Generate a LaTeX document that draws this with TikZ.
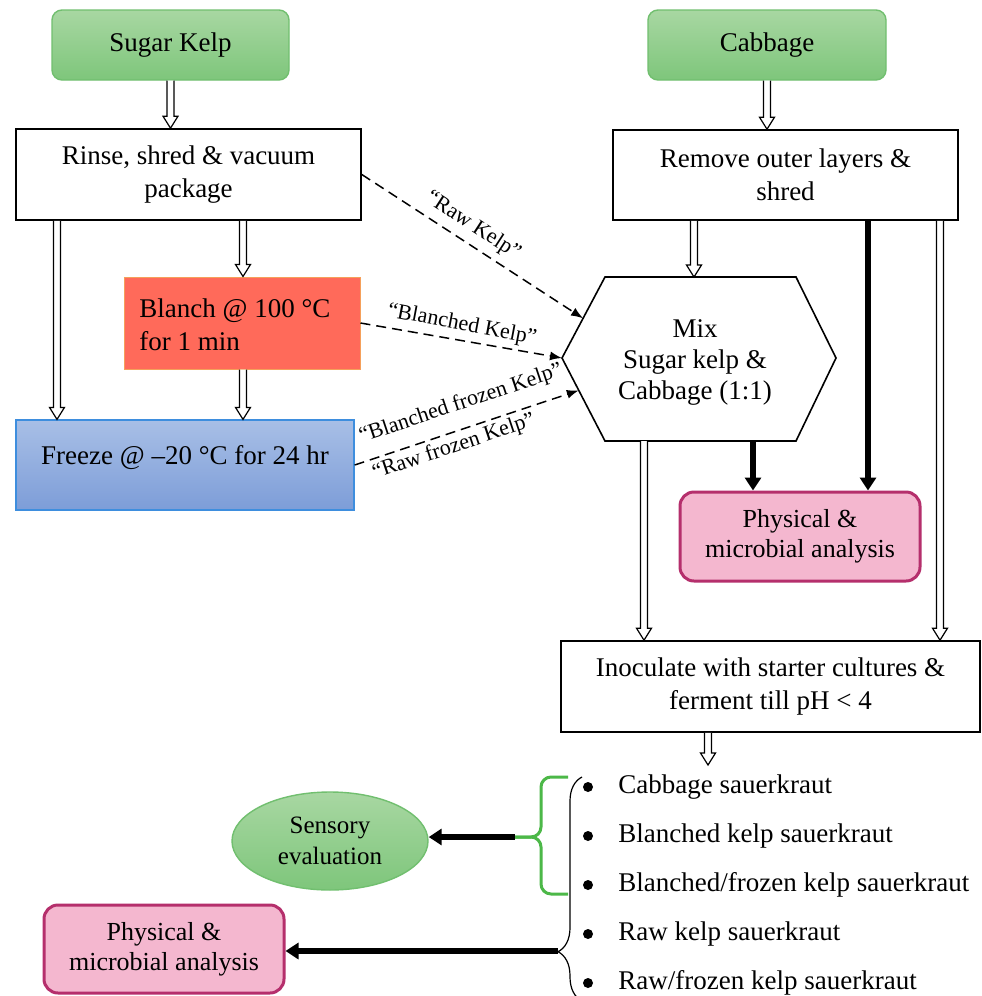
\documentclass[tikz,border=0pt]{standalone}
\usepackage{fontspec}
\setmainfont{Liberation Serif}
\usetikzlibrary{arrows.meta,calc,decorations.pathreplacing,shapes.geometric}
\definecolor{gtop}{HTML}{A8D7A2}
\definecolor{gbot}{HTML}{7EC67B}
\definecolor{gline}{HTML}{71BF6F}
\definecolor{blanchfill}{HTML}{FF6A5A}
\definecolor{blanchline}{HTML}{F5A05A}
\definecolor{ftop}{HTML}{A8BFE6}
\definecolor{fbot}{HTML}{7D9DD8}
\definecolor{fline}{HTML}{3E8EDE}
\definecolor{pinkfill}{HTML}{F4B7CF}
\definecolor{pinkline}{HTML}{B52F6C}
\definecolor{bracegreen}{HTML}{4CB848}
\begin{document}
\begin{tikzpicture}[x=0.5pt,y=-0.5pt,
  txt/.style={font=\fontsize{13.5}{16.5}\selectfont, align=center, inner sep=0pt},
  gbox/.style={txt, draw=gline, line width=0.7pt, rounded corners=5pt, top color=gtop, bottom color=gbot},
  wbox/.style={txt, draw=black, line width=0.8pt, fill=white},
  pinkbox/.style={draw=pinkline, line width=1.5pt, rounded corners=7pt, fill=pinkfill, align=center, inner sep=0pt, font=\fontsize{13}{15}\selectfont},
  lab/.style={font=\fontsize{11}{13}\selectfont, inner sep=0pt},
  hol/.style={draw=black, line width=0.6pt, fill=white, to path={let \p1=(\tikztostart), \p2=(\tikztotarget) in (\x1-1.75pt,\y1) -- (\x1-1.75pt,\y2+6pt) -- (\x1-3.75pt,\y2+6pt) -- (\x1,\y2) -- (\x1+3.75pt,\y2+6pt) -- (\x1+1.75pt,\y2+6pt) -- (\x1+1.75pt,\y1)}},
  thickarr/.style={line width=3pt, -{Triangle[length=6.5pt,width=8pt]}},
  dasharr/.style={line width=0.75pt, dash pattern=on 5pt off 3pt, -{Latex[length=6pt,width=4.5pt]}},
  gbr/.style={draw=bracegreen, line width=1.5pt, rounded corners=5pt},
  bul/.style={circle, fill=black, inner sep=0pt, minimum size=5pt}
]
\useasboundingbox (0,0) rectangle (981,996);
\clip (0,0) rectangle (981,996);
\fill[white] (0,0) rectangle (981,996);

% column x positions
\coordinate (xa) at (57,0);
\coordinate (xb) at (243,0);
\coordinate (xc) at (644,0);
\coordinate (xd) at (940,0);
\coordinate (xe) at (694,0);
\coordinate (xf) at (708,0);
\coordinate (xg) at (753,0);
\coordinate (xh) at (868,0);

% nodes
\node[gbox, minimum width=118.5pt, minimum height=35pt] (sk) at (170.5,45) {Sugar Kelp};
\node[gbox, minimum width=119pt, minimum height=35pt] (cab) at (767,45) {Cabbage};
\node[wbox, minimum width=172.5pt, minimum height=45.5pt] (rinse) at (188.5,174.5) {Rinse, shred \& vacuum\\package};
\node[wbox, minimum width=172.5pt, minimum height=45pt] (remove) at (785.5,175) {Remove outer layers \&\\shred};
\node[draw=blanchline, line width=0.5pt, fill=blanchfill, minimum width=118pt, minimum height=46pt, inner sep=0pt] (blanch) at (242,323) {};
\node[txt, anchor=west, align=left] (blanchtxt) at (139,325) {Blanch @ 100 °C\\for 1 min};
\node[draw=fline, line width=0.6pt, top color=ftop, bottom color=fbot, minimum width=169pt, minimum height=45pt, inner sep=0pt] (freeze) at (185,465) {};
\node[txt] (freezetxt) at (185,458) {Freeze @ –20 °C for 24 hr};

% hexagon
\coordinate (hL) at (562,358);
\coordinate (hTL) at (605,277);
\coordinate (hTR) at (796,277);
\coordinate (hR) at (836,358);
\coordinate (hBR) at (796,441);
\coordinate (hBL) at (605,441);
\draw[line width=0.8pt, fill=white] (hL) -- (hTL) -- (hTR) -- (hR) -- (hBR) -- (hBL) -- cycle;
\node[txt, font=\fontsize{13.5}{15.5}\selectfont] (hex) at (695,362) {Mix\\Sugar kelp \&\\Cabbage (1:1)};

\node[pinkbox, minimum width=120pt, minimum height=44.5pt] (pink1) at (800,536.5) {Physical \&\\microbial analysis};
\node[wbox, minimum width=209.5pt, minimum height=45.5pt] (inoc) at (770.5,686.5) {Inoculate with starter cultures \&\\ferment till pH < 4};
\node[ellipse, draw=gline, line width=0.7pt, top color=gtop, bottom color=gbot, minimum width=98pt, minimum height=49pt, inner sep=0pt, align=center, font=\fontsize{12.5}{15.5}\selectfont] (sens) at (330,841) {Sensory\\evaluation};
\node[pinkbox, minimum width=120pt, minimum height=44pt] (pink2) at (164,949) {Physical \&\\microbial analysis};

% list
\foreach \i/\yy/\t in {1/787/Cabbage sauerkraut, 2/836/Blanched kelp sauerkraut, 3/885/Blanched\slash frozen kelp sauerkraut, 4/934/Raw kelp sauerkraut, 5/983/Raw\slash frozen kelp sauerkraut}{
  \node[bul] (b\i) at (588,\yy) {};
  \node[txt, anchor=west] (it\i) at (618,\yy) {\t};
}
\coordinate (listtop) at (708,765);

% hollow arrows
\draw[hol] (sk.south) to (rinse.north);
\draw[hol] (cab.south) to (remove.north);
\draw[hol] (rinse.south -| xa) to (freeze.north -| xa);
\draw[hol] (rinse.south -| xb) to (blanch.north -| xb);
\draw[hol] (blanch.south -| xb) to (freeze.north -| xb);
\draw[hol] (remove.south -| xe) to (hTL -| xe);
\draw[hol] (hBL -| xc) to (inoc.north -| xc);
\draw[hol] (remove.south -| xd) to (inoc.north -| xd);
\draw[hol] (inoc.south -| xf) to (listtop);

% thick arrows
\draw[thickarr] (hBL -| xg) -- (pink1.north -| xg);
\draw[thickarr] (remove.south -| xh) -- (pink1.north -| xh);

% dashed arrows
\draw[dasharr] (rinse.east) -- ($(hL)!0.49!(hTL)$);
\draw[dasharr] (blanch.east) -- (hL);
\draw[dasharr] (freeze.east) -- ($(hL)!0.39!(hBL)$);
\node[lab, rotate=-33] (lraw) at (473,226) {“Raw Kelp”};
\node[lab, rotate=-10.7] (lbl) at (462,325) {“Blanched Kelp”};
\node[lab, rotate=18.5] (lbf) at (461,404) {“Blanched frozen Kelp”};
\node[lab, rotate=18.5] (lrf) at (454,447) {“Raw frozen Kelp”};

% braces
\draw[decorate, decoration={brace, amplitude=12pt, aspect=0.22}, line width=0.6pt] (582,1001) -- (582,777);
\coordinate (btip) at (558,951);
\draw[gbr] (568,777) -- (541,777) -- (541,837) -- (515,837);
\draw[gbr] (568,894) -- (541,894) -- (541,837) -- (515,837);
\coordinate (gtip) at (515,837);

\draw[thickarr] (gtip) -- (sens.east |- gtip);
\draw[thickarr] (btip) -- (pink2.east |- btip);
\end{tikzpicture}
\end{document}
